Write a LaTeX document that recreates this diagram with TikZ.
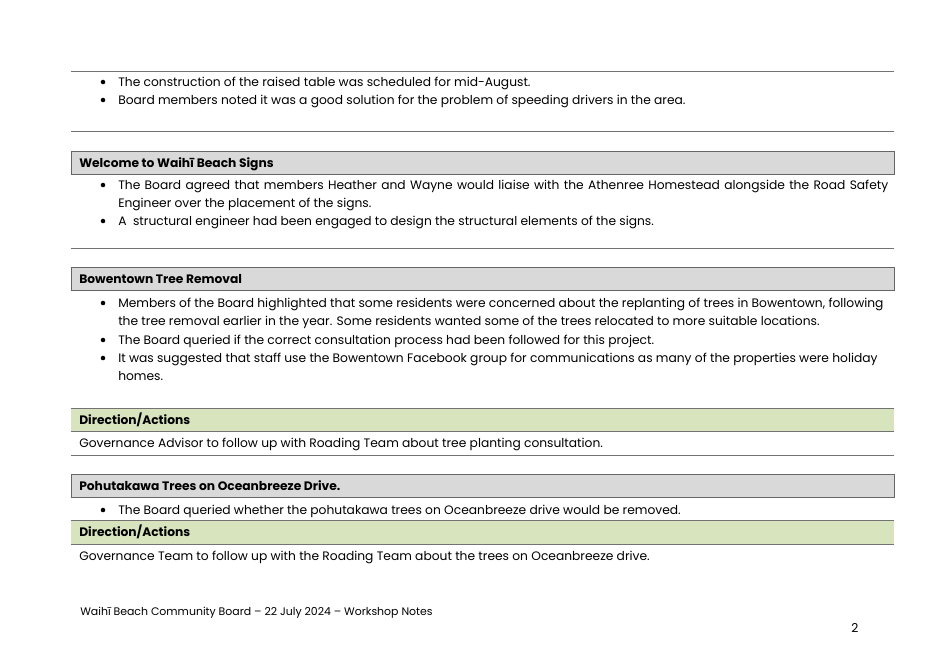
\documentclass[tikz,border=0pt]{standalone}
\usepackage{fontspec}
\setmainfont{Poppins}
\definecolor{actgreen}{HTML}{D7E4BD}
\definecolor{headgray}{HTML}{D9D9D9}
\tikzset{
  rule/.style={draw=black!55, line width=0.5pt},
  headbox/.style={draw=black!60, fill=headgray, line width=0.6pt},
  actbox/.style={fill=actgreen},
  txt/.style={anchor=base west, inner sep=0pt, yshift=-3.4pt, font=\fontsize{9.2}{11}\selectfont},
  head/.style={txt, font=\fontsize{9.2}{11}\selectfont\bfseries},
  dot/.style={circle, fill=black, inner sep=0pt, minimum size=3.4pt}
}
\begin{document}
\begin{tikzpicture}[x=0.75pt,y=-0.75pt]
  \useasboundingbox (0,0) rectangle (939,664);

  % rules between sections
  \draw[rule] (71,71) -- (894,71);
  \draw[rule] (71,131) -- (894,131);
  \draw[rule] (71,248) -- (894,248);

  % first bullets
  \node[dot] (d1) at (103,82) {};
  \node[txt] (t1) at (118,82) {The construction of the raised table was scheduled for mid-August.};
  \node[dot] (d2) at (103,100) {};
  \node[txt] (t2) at (118,100) {Board members noted it was a good solution for the problem of speeding drivers in the area.};

  % welcome signs
  \filldraw[headbox] (71,151) rectangle (894,174);
  \node[head] (h1) at (79,162.5) {Welcome to Waihī Beach Signs};
  \node[dot] at (103,185) {};
  \node[txt] (t3) at (118,185) {\makebox[577.5pt][s]{The Board agreed that members Heather and Wayne would liaise with the Athenree Homestead alongside the Road Safety}};
  \node[txt] (t4) at (118,203) {Engineer over the placement of the signs.};
  \node[dot] at (103,221) {};
  \node[txt] (t5) at (118,221) {A~ structural engineer had been engaged to design the structural elements of the signs.};

  % tree removal
  \filldraw[headbox] (71,267) rectangle (894,290);
  \node[head] (h2) at (79,279) {Bowentown Tree Removal};
  \node[dot] at (103,303) {};
  \node[txt] (t6) at (118,303) {Members of the Board highlighted that some residents were concerned about the replanting of trees in Bowentown, following};
  \node[txt] (t7) at (118,321) {the tree removal earlier in the year. Some residents wanted some of the trees relocated to more suitable locations.};
  \node[dot] at (103,340) {};
  \node[txt] (t8) at (118,340) {The Board queried if the correct consultation process had been followed for this project.};
  \node[dot] at (103,358) {};
  \node[txt] (t9) at (118,358) {It was suggested that staff use the Bowentown Facebook group for communications as many of the properties were holiday};
  \node[txt] (t10) at (118,376) {homes.};

  % actions
  \fill[actbox] (71,408) rectangle (894,431);
  \draw[rule] (71,408) -- (894,408);
  \draw[rule] (71,431) -- (894,431);
  \node[head] (a1) at (79,420) {Direction/Actions};
  \node[txt] (t11) at (79,443) {Governance Advisor to follow up with Roading Team about tree planting consultation.};
  \draw[rule] (71,455) -- (894,455);

  % pohutakawa
  \filldraw[headbox] (71,474) rectangle (894,497);
  \node[head] (h3) at (79,486) {Pohutakawa Trees on Oceanbreeze Drive.};
  \node[dot] at (103,510) {};
  \node[txt] (t12) at (118,510) {The Board queried whether the pohutakawa trees on Oceanbreeze drive would be removed.};
  \fill[actbox] (71,520) rectangle (894,544);
  \draw[rule] (71,520) -- (894,520);
  \draw[rule] (71,544) -- (894,544);
  \node[head] (a2) at (79,532) {Direction/Actions};
  \node[txt] (t13) at (79,556) {Governance Team to follow up with the Roading Team about the trees on Oceanbreeze drive.};

  % footer
  \node[txt, font=\fontsize{8.2}{10}\selectfont] (f1) at (80,611) {Waihī Beach Community Board – 22 July 2024 – Workshop Notes};
  \node[txt] (pg) at (851,628) {2};
\end{tikzpicture}
\end{document}
